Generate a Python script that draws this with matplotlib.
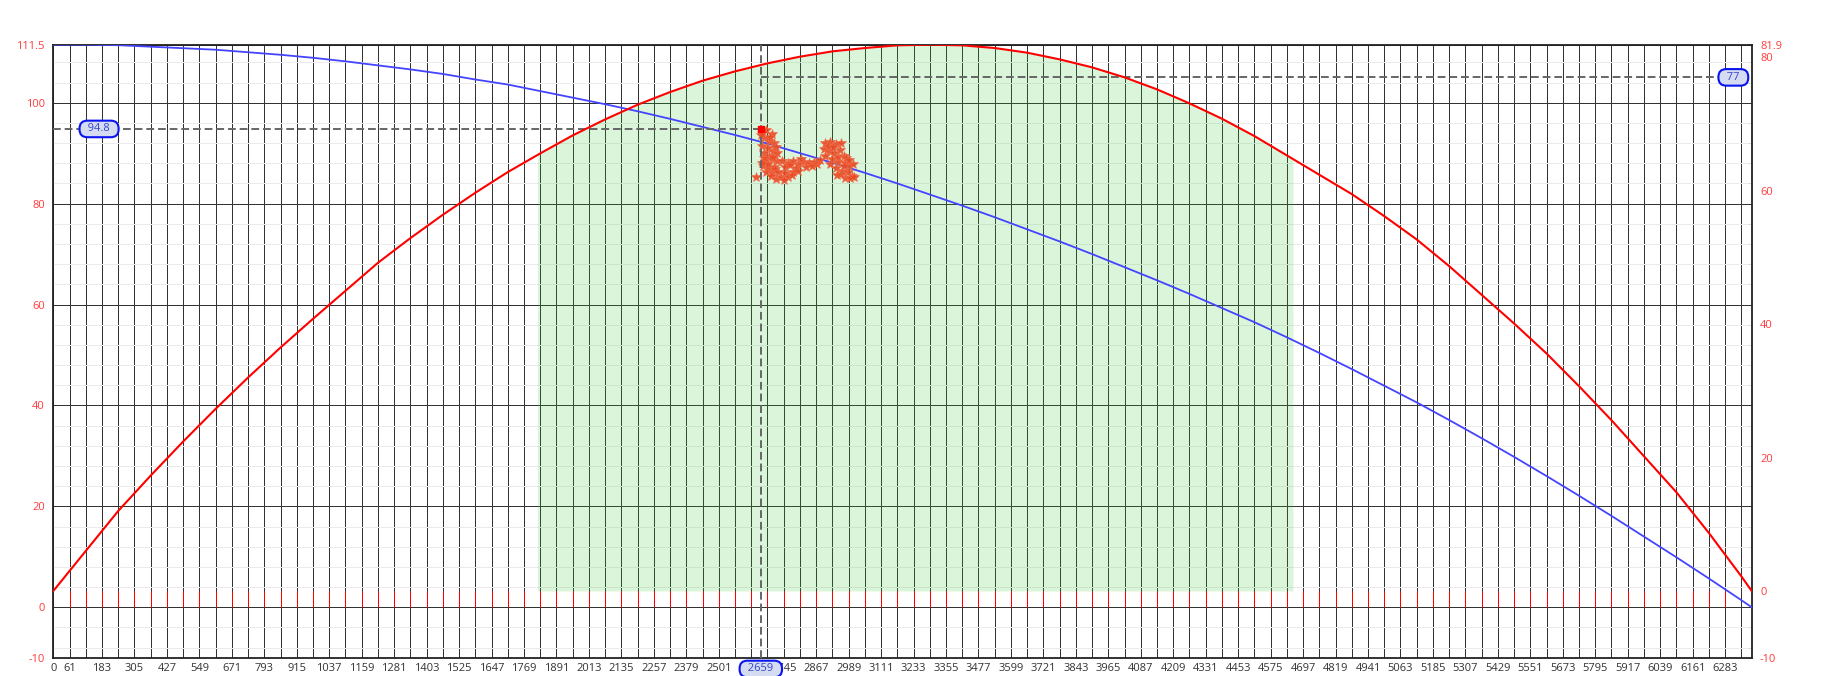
import numpy as np
import matplotlib.pyplot as plt
from matplotlib.transforms import blended_transform_factory

plt.rcParams['font.family'] = ['Open Sans', 'DejaVu Sans']

# puntos de las curvas (eje x), cada 122
dist = [0, 122, 244, 366, 488, 610, 732, 854, 976, 1098, 1220, 1342, 1464, 1586, 1708, 1830,
        1952, 2074, 2196, 2318, 2440, 2562, 2684, 2806, 2928, 3050, 3172, 3294, 3416, 3538,
        3660, 3782, 3904, 4026, 4148, 4270, 4392, 4514, 4636, 4758, 4880, 5002, 5124, 5246,
        5368, 5490, 5612, 5734, 5856, 5978, 6100, 6222, 6344, 6383]
# curva azul (eje izquierdo)
vel = [111.5, 111.5, 111.4, 111.1, 110.8, 110.5, 110.0, 109.5, 108.9, 108.2, 107.4, 106.6,
       105.7, 104.6, 103.6, 102.3, 101.0, 99.7, 98.3, 96.8, 95.2, 93.6, 91.9, 90.0, 88.1,
       86.1, 84.0, 81.8, 79.6, 77.3, 74.9, 72.5, 70.0, 67.4, 64.8, 62.1, 59.3, 56.5, 53.5,
       50.4, 47.2, 43.9, 40.6, 37.1, 33.5, 29.8, 26.0, 22.1, 18.1, 14.0, 9.9, 5.7, 1.4, 0.0]
# curva roja (eje derecho)
alt = [0.0, 6.0, 12.0, 17.3, 22.4, 27.3, 32.0, 36.5, 40.8, 45.0, 49.2, 52.9, 56.4, 59.7,
       62.8, 65.6, 68.3, 70.7, 72.9, 74.8, 76.5, 77.9, 79.1, 80.1, 80.9, 81.4, 81.8, 81.9,
       81.8, 81.4, 80.7, 79.7, 78.5, 77.0, 75.2, 73.1, 70.8, 68.2, 65.3, 62.4, 59.5, 56.2,
       52.7, 48.7, 44.4, 40.1, 35.6, 30.7, 25.6, 20.2, 14.8, 8.7, 2.2, 0.0]

# zona verde
zona = [1820, 4659]

# puntos medidos (estrellas)
sc_x = [2665, 2680, 2700, 2670, 2690, 2710, 2665, 2685, 2705, 2720, 2670, 2690, 2675, 2700, 2720,
        2668, 2690, 2710, 2680, 2700, 2660, 2695, 2715, 2672, 2705, 2685, 2662, 2712,
        2740, 2760, 2780, 2800, 2820, 2840, 2860, 2750, 2790, 2830, 2870, 2880, 2770, 2810, 2850,
        2641, 2697, 2715, 2735, 2750, 2762, 2780, 2800, 2745, 2725, 2775,
        2900, 2920, 2940, 2960, 2895, 2915, 2935, 2955, 2970, 2900, 2925, 2950, 2975, 2990,
        3005, 2940, 2965, 2985, 3000, 2975, 2995, 3010, 2960, 2910, 2930, 2950, 2980, 2945,
        2970, 2990, 2920]
sc_y = [94.0, 94.5, 93.8, 93.0, 92.5, 92.0, 91.5, 91.0, 90.5, 90.0, 90.0, 89.5, 88.5, 88.8, 88.5,
        87.5, 87.0, 87.2, 86.2, 86.0, 93.5, 93.2, 91.2, 89.0, 89.2, 87.8, 88.0, 86.8,
        88.5, 88.0, 88.4, 87.8, 88.2, 88.0, 88.3, 87.2, 87.0, 87.3, 87.8, 88.6, 87.6, 88.8, 87.4,
        85.3, 85.5, 84.8, 85.2, 86.0, 85.3, 86.2, 86.5, 84.6, 86.3, 85.6,
        92.0, 92.3, 91.8, 92.0, 90.8, 90.5, 90.0, 90.7, 89.5, 89.5, 88.8, 88.3, 88.0, 87.5,
        87.8, 87.0, 86.5, 86.2, 85.5, 85.0, 85.0, 85.3, 85.8, 91.5, 91.2, 89.3, 89.0, 85.6,
        87.4, 88.6, 87.8]

# cursor
cur_x = 2659
cur_izq = 94.8
cur_der = 77

xmax = 6383
paso = 61

fig = plt.figure(figsize=(18.47, 6.76), dpi=100)
ax = fig.add_axes([0.02886, 0.0271, 0.91955, 0.9068])
ax2 = ax.twinx()
ax.set_axisbelow(True)

ax.set_xlim(0, xmax)
ax.set_ylim(-10, 111.5)
ax2.set_ylim(-10, 81.9)

# rejilla
xt = np.arange(0, xmax + 1, paso)
etiq = []
for i, v in enumerate(xt):
    if (i == 0 or i % 2 == 1) and v != 2623:   # 2623 queda tapado por el cursor
        etiq.append(str(v))
    else:
        etiq.append('')
ax.set_xticks(xt)
ax.set_xticklabels(etiq)
ax.set_yticks([-10, 0, 20, 40, 60, 80, 100, 111.5])
ax.set_yticklabels(['-10', '0', '20', '40', '60', '80', '100', '111.5'])
ax.set_yticks([v for v in range(-8, 112, 4) if v % 20 != 0], minor=True)
ax.grid(which='major', axis='x', color='#333333', lw=0.72, snap=True)
ax.grid(which='major', axis='y', color='#333333', lw=0.72, snap=True)
ax.grid(which='minor', axis='y', color='#ebebeb', lw=0.72, snap=True)
ax.tick_params(axis='x', length=0, pad=4, labelsize=8, labelcolor='#333333')
ax.tick_params(axis='y', which='major', length=0, pad=6, labelsize=8, labelcolor='#ff3b3b')
ax.tick_params(axis='y', which='minor', left=False, right=True, direction='in',
               length=3, color='#dddddd')
for s in ax.spines.values():
    s.set_color('#222222')
    s.set_linewidth(1.3)

ax2.set_yticks([-10, 0, 20, 40, 60, 80, 81.9])
ax2.set_yticklabels(['-10', '0', '20', '40', '60', '80', '81.9'])
ax2.tick_params(axis='y', length=0, pad=6, labelsize=8, labelcolor='#ff3b3b')
for s in ax2.spines.values():
    s.set_visible(False)

# marcas rojas abajo
ax.vlines(xt[xt <= 6283], 0, 3.2, color='red', lw=0.72, snap=True, zorder=1.5)

# zona verde (bajo la curva roja)
xz = np.linspace(zona[0], zona[1], 300)
ax.fill_between(xz, 0, np.interp(xz, dist, alt), color='limegreen', alpha=0.18,
                lw=0, transform=ax2.transData, zorder=1)

# curvas
ax.plot(dist, vel, color='#4444ff', lw=1.3, zorder=3)
ax2.plot(dist, alt, color='red', lw=1.5, zorder=3)

# estrellas
ax.plot(sc_x, sc_y, ls='none', marker='*', ms=7.5, color='#e84a22', mec='#f06a4a',
        mew=0.5, alpha=0.9, zorder=4)
ax.plot([cur_x], [cur_izq], ls='none', marker='s', ms=5, color='red', zorder=5)

# cursor
dash = (0, (4, 2))
ax.axvline(cur_x, color='#666666', lw=1.4, ls=dash, zorder=4)
ax.plot([0, cur_x], [cur_izq, cur_izq], color='#666666', lw=1.4, ls=dash, zorder=4)
ax2.plot([cur_x, xmax], [cur_der, cur_der], color='#666666', lw=1.4, ls=dash, zorder=2)

caja = dict(boxstyle='round,pad=0.25,rounding_size=0.7', fc='#d5dcf2', ec='#0a14f0', lw=1.5)
ax.text(172, cur_izq, '  94.8  ', ha='center', va='center', fontsize=8, color='#3344cc',
        bbox=caja, zorder=6)
ax2.text(6314, cur_der, '  77  ', ha='center', va='center', fontsize=8, color='#3344cc',
         bbox=caja, zorder=6)
tr = blended_transform_factory(ax.transData, ax.transAxes)
ax.text(cur_x, -0.0184, '  2659  ', ha='center', va='center', fontsize=8, color='#3344cc',
        bbox=caja, transform=tr, zorder=6)

fig.savefig('out.png', dpi=100, facecolor='white')
